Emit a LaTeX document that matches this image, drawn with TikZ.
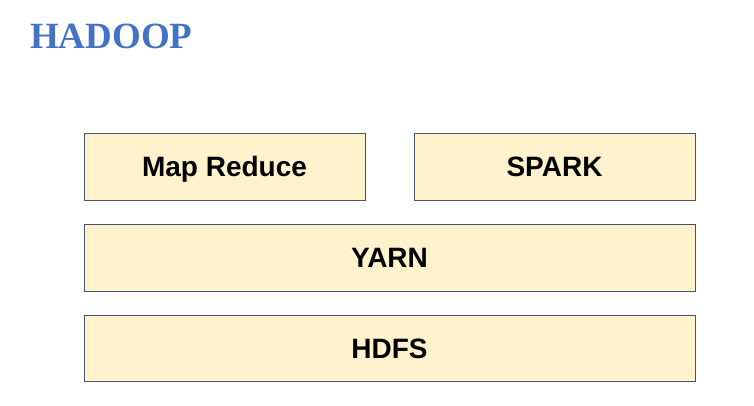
\documentclass[tikz,border=0pt]{standalone}
\usepackage{fontspec}
\setmainfont{Liberation Serif}
\setsansfont{Liberation Sans}
\definecolor{layerfill}{HTML}{FFF2CC}
\definecolor{layerline}{HTML}{44546A}
\definecolor{titleblue}{HTML}{4472C4}
\begin{document}
\begin{tikzpicture}[x=1pt,y=-1pt]
  \tikzstyle{layer}=[draw=layerline,fill=layerfill,line width=1pt,minimum height=67pt,
    font=\sffamily\bfseries\fontsize{28}{32}\selectfont,inner sep=0pt,
    text height=20pt,text depth=-2pt]
  \tikzstyle{heading}=[font=\rmfamily\bfseries\fontsize{37}{40}\selectfont,text=titleblue,anchor=base west,inner sep=0pt]
  \useasboundingbox (0,0) rectangle (754,405);
  \node[heading] (title) at (30,48) {HADOOP};
  % top row
  \node[layer,minimum width=281pt] (mapreduce) at (224.5,166.5) {Map Reduce};
  \node[layer,minimum width=281pt] (spark) at (554.5,166.5) {SPARK};
  % resource manager and storage
  \node[layer,minimum width=611pt] (yarn) at (389.5,257.5) {YARN};
  \node[layer,minimum width=611pt,minimum height=66pt] (hdfs) at (389.5,348) {HDFS};
\end{tikzpicture}
\end{document}
